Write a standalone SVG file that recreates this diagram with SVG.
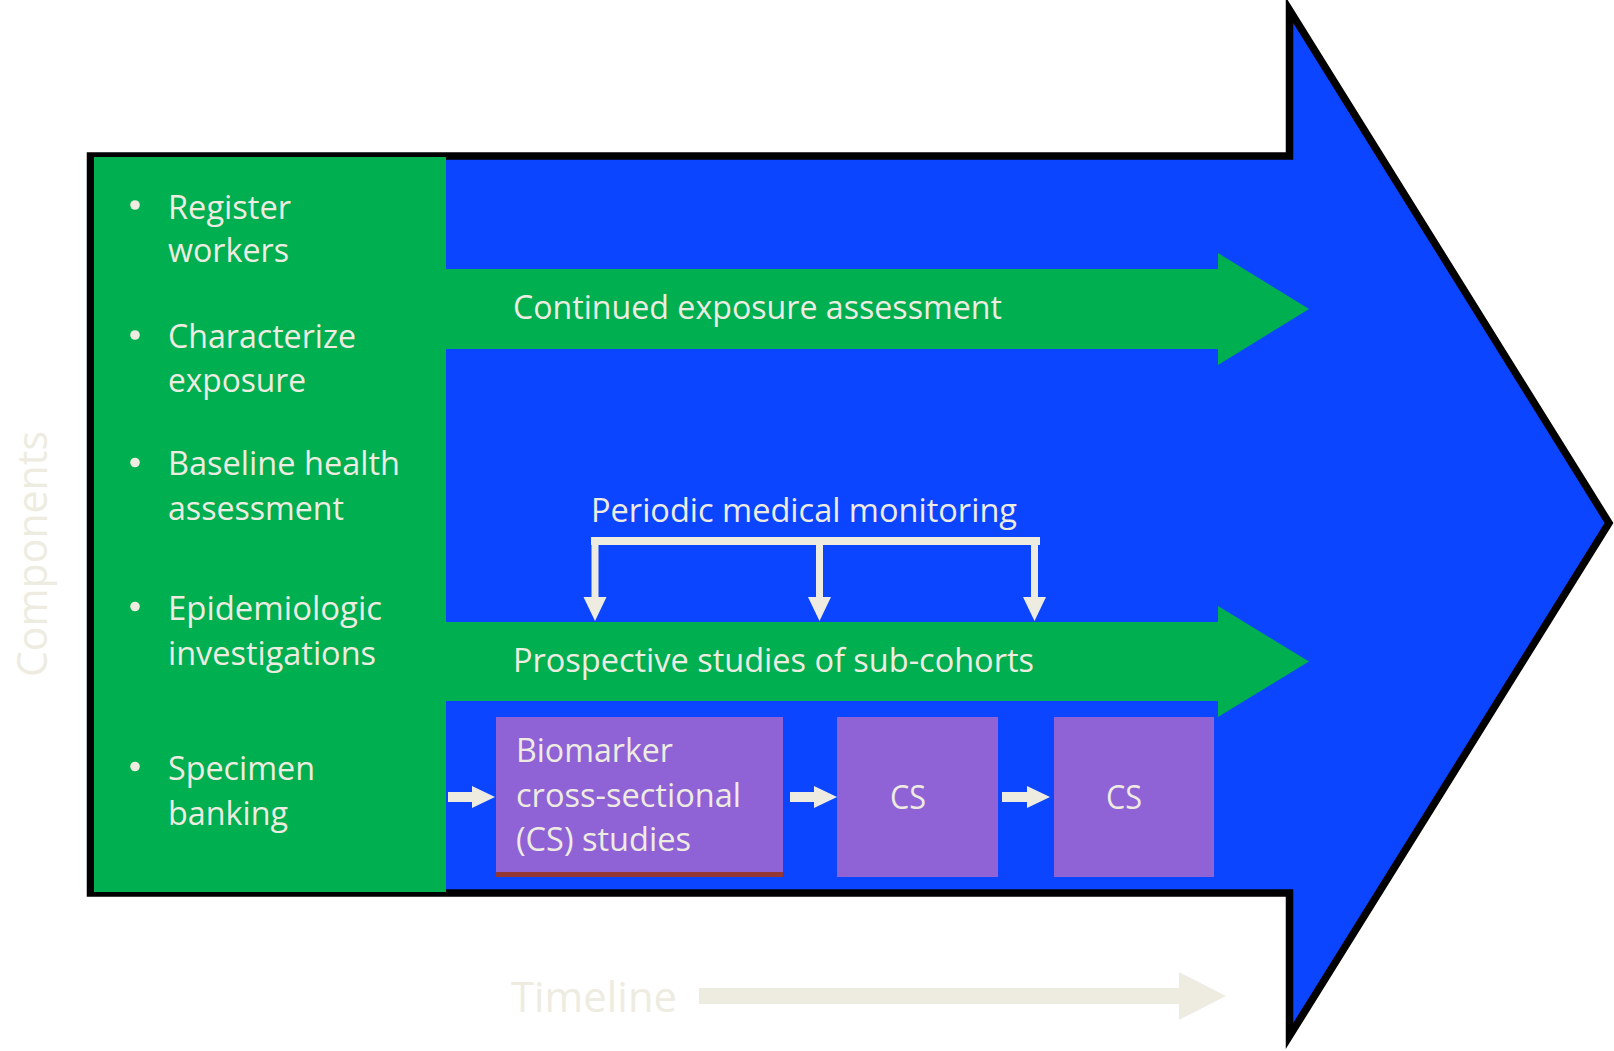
<svg xmlns="http://www.w3.org/2000/svg" width="1614" height="1051" viewBox="0 0 1614 1051">
<style>
  text { font-family: "Open Sans", "Liberation Sans", sans-serif; fill: #EEECE1; }
  .t { font-size: 33px; }
  .big { font-size: 42px; }
  .lite { fill: #EEECE1; }
  .purple { fill: #8F63D6; }
  .green { fill: #00AF50; }
</style>
<rect width="1614" height="1051" fill="#FFFFFF"/>

<g id="main-arrow">
  <polygon points="90.5,156 1289.5,156 1289.5,10 1609,523 1289.5,1036 1289.5,893 90.5,893" fill="#0B45FF" stroke="#000000" stroke-width="7.5" stroke-linejoin="miter" stroke-miterlimit="10"/>
</g>

<g id="components-panel">
  <rect x="94" y="157" width="352" height="735" class="green"/>
  <circle cx="135" cy="205" r="4.8" class="lite"/>
  <text class="t" x="168" y="218.5" textLength="123" lengthAdjust="spacingAndGlyphs">Register</text>
  <text class="t" x="168" y="262" textLength="121" lengthAdjust="spacingAndGlyphs">workers</text>
  <circle cx="135" cy="335" r="4.8" class="lite"/>
  <text class="t" x="168" y="348" textLength="188" lengthAdjust="spacingAndGlyphs">Characterize</text>
  <text class="t" x="168" y="392" textLength="138" lengthAdjust="spacingAndGlyphs">exposure</text>
  <circle cx="135" cy="462.5" r="4.8" class="lite"/>
  <text class="t" x="168" y="475" textLength="232" lengthAdjust="spacingAndGlyphs">Baseline health</text>
  <text class="t" x="168" y="520" textLength="176" lengthAdjust="spacingAndGlyphs">assessment</text>
  <circle cx="135" cy="606.5" r="4.8" class="lite"/>
  <text class="t" x="168" y="620" textLength="214" lengthAdjust="spacingAndGlyphs">Epidemiologic</text>
  <text class="t" x="168" y="665" textLength="208" lengthAdjust="spacingAndGlyphs">investigations</text>
  <circle cx="135" cy="766.5" r="4.8" class="lite"/>
  <text class="t" x="168" y="780" textLength="147" lengthAdjust="spacingAndGlyphs">Specimen</text>
  <text class="t" x="168" y="825" textLength="120" lengthAdjust="spacingAndGlyphs">banking</text>
</g>

<g id="continued-exposure">
  <polygon points="446,269 1218,269 1218,253 1309,309 1218,365 1218,349 446,349" class="green"/>
  <text class="t" x="513" y="319" textLength="489" lengthAdjust="spacingAndGlyphs">Continued exposure assessment</text>
</g>

<g id="periodic-monitoring">
  <text class="t" x="591" y="522" textLength="426" lengthAdjust="spacingAndGlyphs">Periodic medical monitoring</text>
</g>

<g id="prospective-studies">
  <polygon points="446,622 1218,622 1218,606 1309,661.5 1218,717 1218,701 446,701" class="green"/>
  <text class="t" x="513" y="671.5" textLength="521" lengthAdjust="spacingAndGlyphs">Prospective studies of sub-cohorts</text>
</g>

<g id="biomarker-cs">
  <rect x="496" y="717" width="287" height="156" class="purple"/>
  <rect x="496" y="872" width="287" height="5" fill="#953735"/>
  <text class="t" x="516" y="762" textLength="157" lengthAdjust="spacingAndGlyphs">Biomarker</text>
  <text class="t" x="516" y="807" textLength="225" lengthAdjust="spacingAndGlyphs">cross-sectional</text>
  <text class="t" x="516" y="851" textLength="175" lengthAdjust="spacingAndGlyphs">(CS) studies</text>
</g>

<g id="cs-2">
  <rect x="837" y="717" width="161" height="160" class="purple"/>
  <text class="t" x="890" y="809" textLength="36" lengthAdjust="spacingAndGlyphs">CS</text>
</g>

<g id="cs-3">
  <rect x="1054" y="717" width="160" height="160" class="purple"/>
  <text class="t" x="1106" y="809" textLength="36" lengthAdjust="spacingAndGlyphs">CS</text>
</g>

<g id="connectors" class="lite">
  <rect x="591" y="537" width="449" height="8"/>
  <rect x="591.5" y="540" width="7" height="58"/>
  <polygon points="583.5,597 606.5,597 595,621"/>
  <rect x="816" y="540" width="7" height="58"/>
  <polygon points="808,597 831,597 819.5,621"/>
  <rect x="1031" y="540" width="7" height="58"/>
  <polygon points="1023,597 1046,597 1034.5,621"/>
  <polygon points="448,792 472,792 472,786 495,797 472,808 472,802 448,802"/>
  <polygon points="790,792 814,792 814,786 837,797 814,808 814,802 790,802"/>
  <polygon points="1002,792 1027,792 1027,786 1050,797 1027,808 1027,802 1002,802"/>
</g>

<g id="timeline">
  <text class="big" x="511" y="1012" textLength="166" lengthAdjust="spacingAndGlyphs">Timeline</text>
  <polygon points="699,988 1179,988 1179,972 1226,996 1179,1020 1179,1004 699,1004" class="lite"/>
</g>

<g id="components-label">
  <text class="big" transform="translate(47,677) rotate(-90)" x="0" y="0" textLength="246" lengthAdjust="spacingAndGlyphs">Components</text>
</g>
</svg>
